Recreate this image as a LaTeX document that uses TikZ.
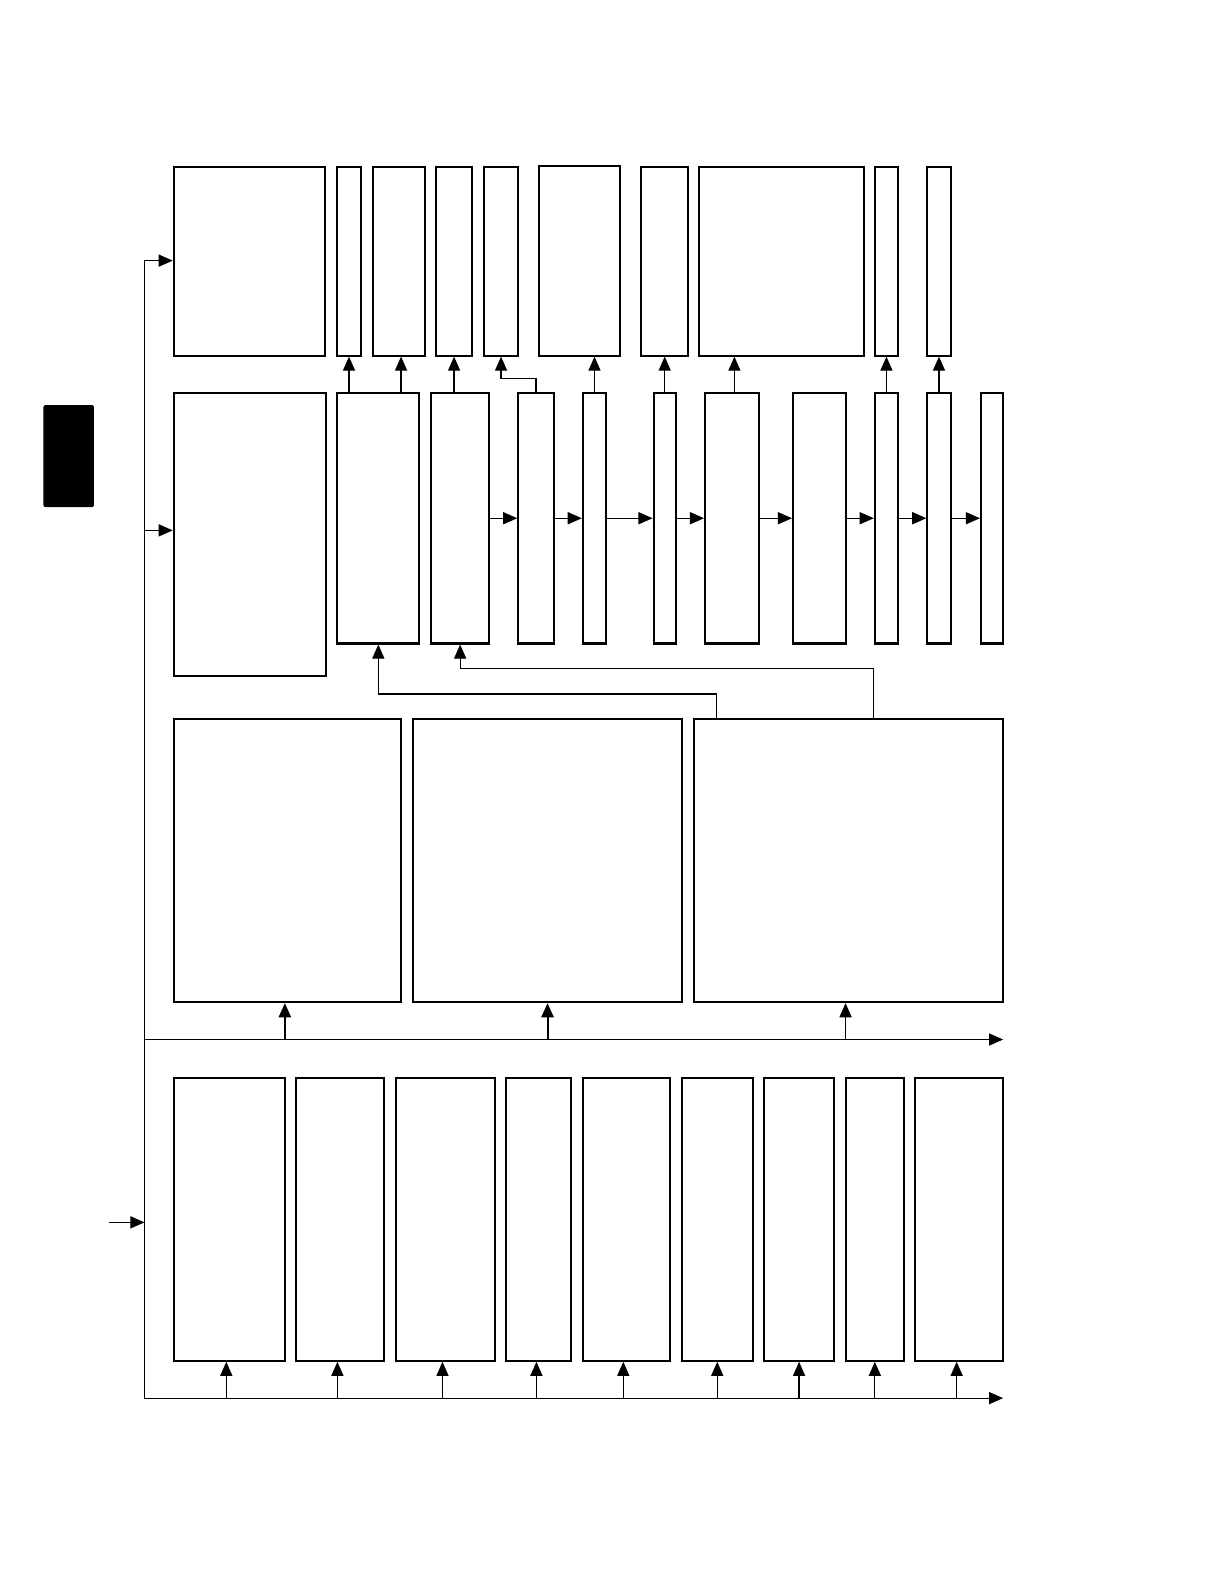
\documentclass[tikz,border=0pt]{standalone}
\usetikzlibrary{arrows.meta,fit,calc}
\begin{document}
\begin{tikzpicture}[x=0.5pt,y=-0.5pt,
  box/.style={draw=black,line width=1pt,inner sep=0pt,fill=white},
  conn/.style={line width=0.6pt,-{Triangle[length=7pt,width=6pt]}},
  line/.style={line width=0.6pt}]
\useasboundingbox (0,0) rectangle (1208,1568);
\newcommand{\bx}[5]{\node[box,fit={(#2,#3)(#4,#5)}] (#1) {};}
% black tab
\node[fill=black,inner sep=0pt,rounded corners=1pt,fit={(43,401)(93,502)}] (tab) {};
% row 1
\bx{A1}{172}{165}{322}{352}
\bx{A2}{334}{165}{357}{352}
\bx{A3}{369}{165}{421}{352}
\bx{A4}{432}{165}{467}{352}
\bx{A5}{479}{165}{513}{352}
\bx{A6}{534}{164}{614}{352}
\bx{A7}{635}{165}{681}{352}
\bx{A8}{692}{165}{855}{352}
\bx{A9}{866}{165}{889}{352}
\bx{A10}{918}{165}{941}{352}
% row 2
\bx{B1}{172}{389}{323}{669}
\bx{B2}{334}{389}{415}{637}
\bx{B3}{427}{389}{484}{637}
\bx{B4}{513}{389}{548}{637}
\bx{B5}{577}{389}{600}{637}
\bx{B6}{647}{389}{669}{637}
\bx{B7}{698}{389}{751}{637}
\bx{B8}{785}{389}{837}{637}
\bx{B9}{866}{389}{889}{637}
\bx{B10}{918}{389}{941}{637}
\bx{B11}{971}{389}{993}{637}
% row 3
\bx{C1}{172}{712}{397}{992}
\bx{C2}{409}{712}{675}{992}
\bx{C3}{687}{712}{993}{992}
% row 4
\bx{D1}{172}{1067}{282}{1347}
\bx{D2}{293}{1067}{380}{1347}
\bx{D3}{392}{1067}{490}{1347}
\bx{D4}{501}{1067}{565}{1347}
\bx{D5}{577}{1067}{663}{1347}
\bx{D6}{675}{1067}{745}{1347}
\bx{D7}{756}{1067}{826}{1347}
\bx{D8}{837}{1067}{895}{1347}
\bx{D9}{906}{1067}{993}{1347}
% coordinates
\coordinate (sTop) at (143,258);
\coordinate (sBot) at (143,1384);
\coordinate (bus1s) at (143,1029);
\coordinate (bus1e) at (993,1029);
\coordinate (bus2e) at (993,1384);
\coordinate (inS) at (108,1210);
\coordinate (inE) at (143,1210);
% spine and buses
\draw[line] (sTop) -- (sBot);
\draw[conn] (sTop) -- (A1.west |- sTop);
\draw[conn] (143,525) -- (B1.west |- 0,525);
\draw[conn] (bus1s) -- (bus1e);
\draw[conn] (sBot) -- (bus2e);
\draw[conn] (inS) -- (inE);
% row 2 -> row 1
\draw[conn] (B2.north -| A2.south) -- (A2.south);
\draw[conn] (B2.north -| 397,0) -- (397,0 |- A3.south);
\draw[conn] (B3.north -| A4.south) -- (A4.south);
\draw[conn] (B4.north) -- ++(0,-13) -| (A5.south);
\draw[conn] (B5.north) -- (B5.north |- A6.south);
\draw[conn] (B6.north) -- (B6.north |- A7.south);
\draw[conn] (B7.north -| 727,0) -- (727,0 |- A8.south);
\draw[conn] (B9.north) -- (A9.south);
\draw[conn] (B10.north) -- (A10.south);
% row 2 chain
\draw[conn] (B3.east |- 0,513) -- (B4.west |- 0,513);
\draw[conn] (B4.east |- 0,513) -- (B5.west |- 0,513);
\draw[conn] (B5.east |- 0,513) -- (B6.west |- 0,513);
\draw[conn] (B6.east |- 0,513) -- (B7.west |- 0,513);
\draw[conn] (B7.east |- 0,513) -- (B8.west |- 0,513);
\draw[conn] (B8.east |- 0,513) -- (B9.west |- 0,513);
\draw[conn] (B9.east |- 0,513) -- (B10.west |- 0,513);
\draw[conn] (B10.east |- 0,513) -- (B11.west |- 0,513);
% row 3 -> row 2
\draw[conn] ($(C3.north west)+(23,0)$) |- (0,687 -| B2.south) -- (B2.south);
\draw[conn] ($(C3.north west)+(179,0)$) |- (0,662 -| B3.south) -- (B3.south);
% bus 1 -> row 3
\draw[conn,line width=1pt] (bus1s -| 282,0) -- (282,0 |- C1.south);
\draw[conn,line width=1pt] (bus1s -| C2.south) -- (C2.south);
\draw[conn] (bus1s -| 837,0) -- (837,0 |- C3.south);
% bus 2 -> row 4
\foreach \n/\xx in {D1/224,D2/334,D3/438,D4/531,D5/617,D6/710,D7/791,D8/866,D9/947}{
  \draw[conn] (sBot -| \xx,0) -- (\xx,0 |- \n.south);
}
\end{tikzpicture}
\end{document}
